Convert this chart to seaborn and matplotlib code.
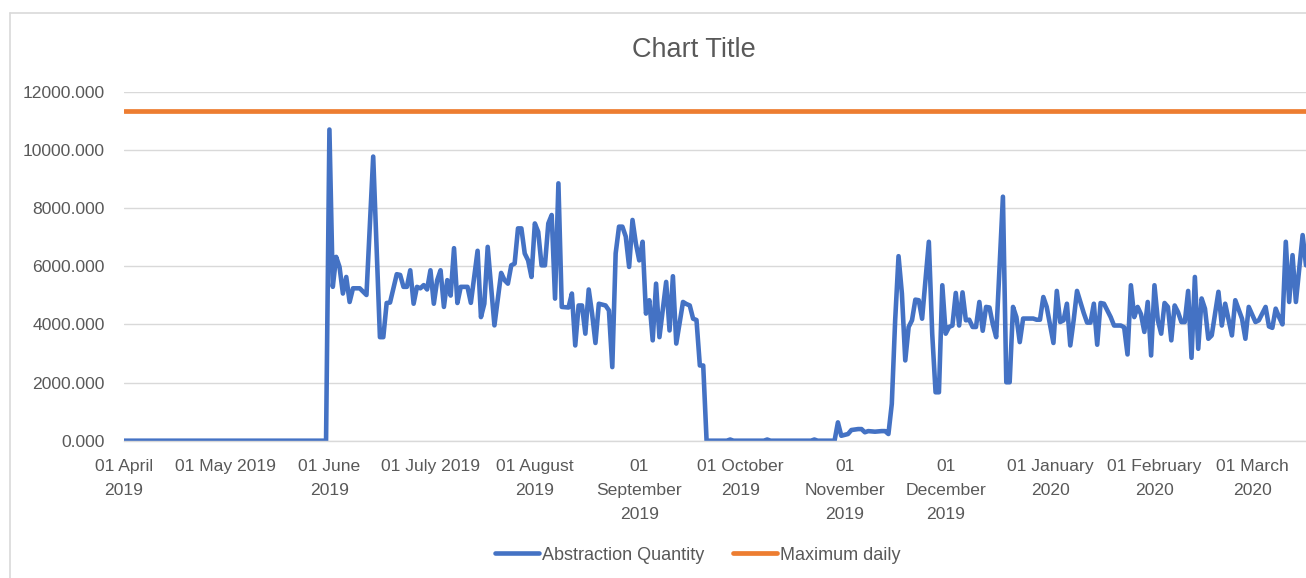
import numpy as np
import pandas as pd
import matplotlib
matplotlib.use("Agg")
import matplotlib.pyplot as plt
import matplotlib.ticker as mticker
from matplotlib.lines import Line2D
import seaborn as sns

# ===============================
# Data
# ===============================
start_date = pd.Timestamp("2019-04-01")

# days after 01 April 2019 and daily abstraction at those days
abstraction_days = [
    0, 60, 61, 62, 63, 64, 65, 66, 67, 68, 70, 72, 74, 76, 77, 78, 79, 81, 82, 83,
    84, 85, 86, 87, 88, 89, 90, 91, 92, 93, 94, 95, 96, 97, 98, 99, 100, 102, 103, 105,
    106, 107, 108, 110, 112, 113, 114, 115, 116, 117, 118, 119, 120, 121, 122, 123, 124, 125, 126, 127,
    128, 129, 130, 132, 133, 134, 135, 136, 137, 138, 139, 140, 141, 143, 144, 145, 146, 147, 148, 149,
    150, 151, 152, 153, 154, 155, 156, 157, 158, 159, 161, 162, 163, 164, 166, 167, 168, 169, 170, 171,
    172, 173, 179, 180, 181, 190, 191, 192, 204, 205, 206, 211, 212, 213, 215, 216, 218, 219, 220, 221,
    223, 225, 226, 227, 228, 229, 230, 231, 232, 233, 234, 235, 236, 237, 238, 239, 240, 241, 242, 243,
    244, 245, 246, 247, 248, 249, 250, 251, 252, 253, 254, 255, 256, 257, 258, 259, 261, 262, 263, 264,
    265, 266, 267, 268, 270, 271, 272, 273, 274, 276, 277, 278, 279, 280, 281, 282, 283, 285, 286, 287,
    288, 289, 290, 291, 293, 294, 296, 297, 298, 299, 300, 301, 302, 303, 304, 305, 306, 307, 308, 309,
    310, 311, 312, 313, 314, 315, 316, 317, 318, 319, 320, 321, 322, 323, 325, 326, 327, 329, 330, 332,
    333, 334, 336, 337, 339, 340, 341, 342, 343, 344, 345, 346, 347, 348, 350, 351,
]
abstraction_qty = [
    0, 0, 10700, 5290, 6320, 5975, 5060, 5630, 4770, 5240, 5240, 5010, 9770, 3560, 3560, 4735, 4750, 5725, 5700, 5290,
    5290, 5860, 4710, 5290, 5240, 5350, 5200, 5860, 4710, 5520, 5860, 4600, 5520, 4990, 6620, 4735, 5290, 5290, 4740, 6530,
    4250, 4710, 6665, 3965, 5770, 5520, 5400, 6030, 6090, 7300, 7300, 6437, 6200, 5630, 7470, 7180, 6030, 6030, 7470, 7760,
    4885, 8850, 4600, 4580, 5060, 3275, 4650, 4650, 3680, 5200, 4370, 3360, 4710, 4650, 4480, 2530, 6440, 7360, 7360, 7020,
    5975, 7590, 6780, 6200, 6840, 4370, 4830, 3450, 5400, 3560, 5460, 3790, 5655, 3340, 4770, 4700, 4650, 4195, 4150, 2586,
    2586, 0, 0, 40, 0, 0, 40, 0, 0, 40, 0, 0, 630, 170, 230, 367, 400, 400, 290, 330,
    310, 330, 330, 230, 1265, 4140, 6345, 5060, 2760, 3910, 4140, 4850, 4830, 4195, 5520, 6840, 3680, 1665, 1665, 5345,
    3680, 3910, 3960, 5080, 3960, 5100, 4140, 4160, 3910, 3910, 4770, 3780, 4600, 4580, 4000, 3560, 8390, 2010, 2010, 4600,
    4250, 3390, 4200, 4200, 4200, 4160, 4160, 4940, 4600, 3360, 5150, 4080, 4140, 4710, 3275, 4140, 5150, 4390, 4060, 4060,
    4710, 3300, 4735, 4710, 4250, 3960, 3960, 3900, 2965, 5345, 4250, 4600, 4350, 3740, 4770, 2930, 5345, 4140, 3680, 4735,
    4600, 3450, 4650, 4420, 4080, 4080, 5150, 2850, 5630, 3160, 4890, 4540, 3505, 3620, 5120, 3960, 4710, 3620, 4830, 4195,
    3505, 4600, 4080, 4140, 4600, 3930, 3880, 4540, 4250, 4000, 6840, 4770, 6380, 4770, 7070, 6030,
]

max_daily_days = [0, 351]
max_daily = [11340, 11340]

tick_months = ["2019-04-01", "2019-05-01", "2019-06-01", "2019-07-01", "2019-08-01", "2019-09-01",
               "2019-10-01", "2019-11-01", "2019-12-01", "2020-01-01", "2020-02-01", "2020-03-01"]
tick_labels = ["01 April\n2019", "01 May 2019", "01 June\n2019", "01 July 2019", "01 August\n2019",
               "01\nSeptember\n2019", "01 October\n2019", "01\nNovember\n2019", "01\nDecember\n2019",
               "01 January\n2020", "01 February\n2020", "01 March\n2020"]

df_abs = pd.DataFrame({
    "date": start_date + pd.to_timedelta(abstraction_days, unit="D"),
    "value": abstraction_qty,
})
df_max = pd.DataFrame({
    "date": start_date + pd.to_timedelta(max_daily_days, unit="D"),
    "value": max_daily,
})

# ===============================
# Plot
# ===============================
sns.set_style("white")
plt.rcParams["font.family"] = ["Liberation Sans", "DejaVu Sans"]
text_color = "#595959"
grid_color = "#D9D9D9"
fs = 12.6

fig = plt.figure(figsize=(13.06, 5.78), dpi=100)
ax = fig.add_axes([124 / 1306, 1 - 440.7 / 578, 1 - 124 / 1306, (440.7 - 91.7) / 578])

sns.lineplot(data=df_abs, x="date", y="value", ax=ax, color="#4472C4", lw=3.3,
             label="Abstraction Quantity", solid_joinstyle="round")
sns.lineplot(data=df_max, x="date", y="value", ax=ax, color="#ED7D31", lw=3.4,
             label="Maximum daily")

ax.set_ylim(0, 12000)
ax.set_xlim(start_date, start_date + pd.Timedelta(days=351))
ax.yaxis.set_major_locator(mticker.MultipleLocator(2000))
ax.yaxis.set_major_formatter(mticker.FuncFormatter(lambda v, p: f"{v:.3f}"))
ax.grid(axis="y", color=grid_color, lw=1.0)
ax.set_axisbelow(True)

ax.set_xticks(pd.to_datetime(tick_months))
ax.set_xticklabels(tick_labels, linespacing=1.75, ha="center", va="top")

for s in ["top", "right", "left"]:
    ax.spines[s].set_visible(False)
ax.spines["bottom"].set_color(grid_color)
ax.spines["bottom"].set_linewidth(1.0)

ax.tick_params(axis="x", colors=text_color, labelsize=fs, length=5, width=1,
               color=grid_color, direction="out", pad=8.5)
ax.tick_params(axis="y", colors=text_color, labelsize=fs, length=0, pad=14)
ax.set_xlabel("")
ax.set_ylabel("")

fig.text(694 / 1306, 1 - 50 / 578, "Chart Title", ha="center", va="center",
         fontsize=19.5, color=text_color)

handles, labels = ax.get_legend_handles_labels()
ax.get_legend().remove()
fig.legend(handles, labels, loc="center", bbox_to_anchor=(698 / 1306, 1 - 555 / 578),
           ncol=2, frameon=False, fontsize=13, labelcolor=text_color,
           handlelength=2.4, handletextpad=0.2, columnspacing=1.6)

# chart border (light gray frame)
fig.add_artist(Line2D([10 / 1306, 10 / 1306], [0, 1 - 12.7 / 578], color=grid_color, lw=1.2))
fig.add_artist(Line2D([10 / 1306, 1], [1 - 12.7 / 578, 1 - 12.7 / 578], color=grid_color, lw=1.2))

fig.savefig("out.png", dpi=100)
